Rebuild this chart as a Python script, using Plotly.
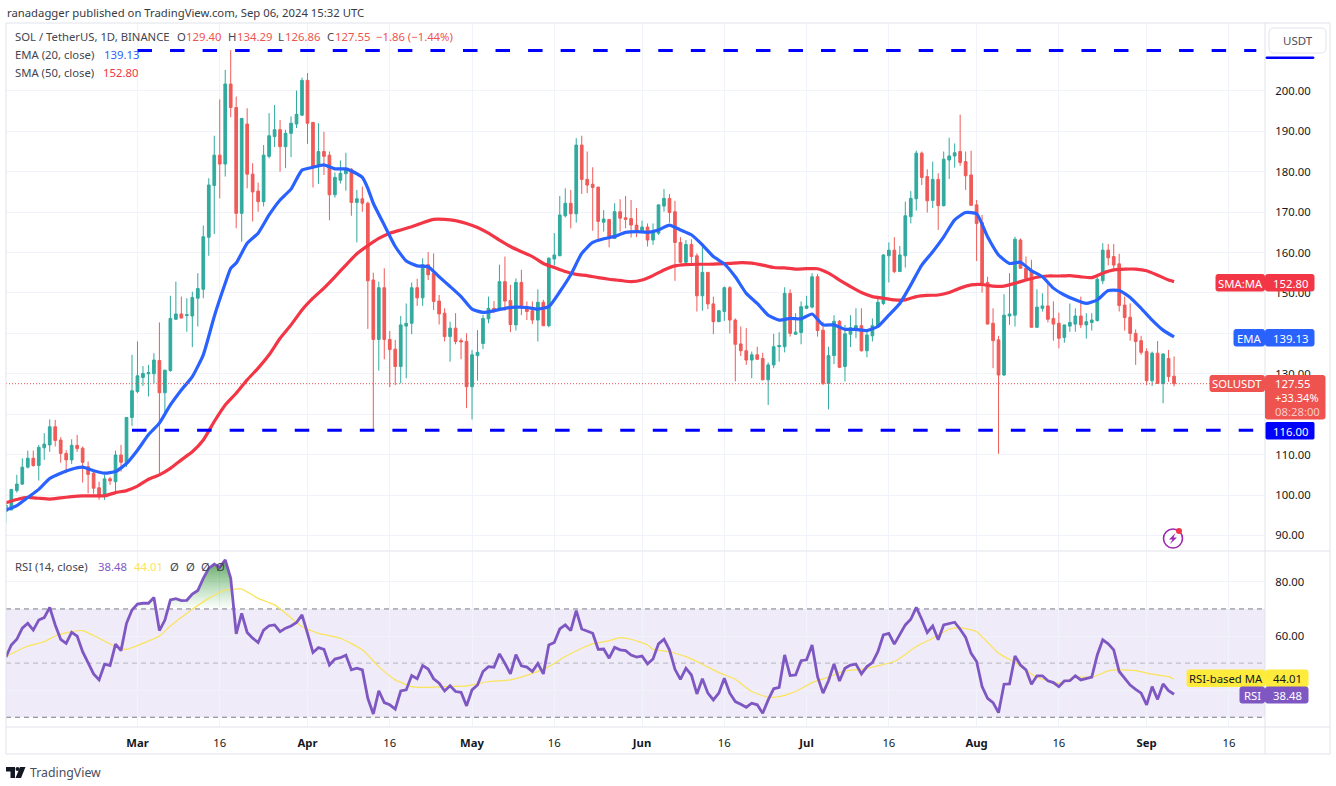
import pandas as pd
import plotly.graph_objects as go

W, H = 1336, 786

# ---------- data ----------
first_day = "2024-02-06"

opens = [95.9,96.3,101.1,102.7,106.9,109.1,107.3,111.7,112.4,116.9,113.6,110.3,108.7,112.3,111.6,107.0,105.4,101.8,99.8,104.0,
103.3,109.9,108.1,119.2,125.6,129.1,130.0,130.0,133.3,125.3,130.8,143.5,144.8,144.4,144.3,148.7,150.9,163.8,176.6,184.1,
181.9,201.7,195.9,169.7,191.8,179.4,175.2,172.6,183.8,188.7,190.4,186.2,189.5,191.8,194.0,202.6,192.2,181.3,185.0,184.1,
174.3,177.9,179.5,180.6,172.4,173.3,172.2,153.2,138.5,151.3,138.5,136.1,131.8,141.8,142.5,151.3,148.8,157.0,154.9,148.0,
145.0,139.2,141.3,138.2,138.0,126.8,134.5,137.5,143.6,146.2,145.8,152.8,148.1,142.1,152.6,146.6,145.6,143.3,147.7,141.9,
158.4,159.2,169.1,172.2,169.6,186.6,178.1,176.9,176.2,167.5,168.2,163.5,170.1,168.6,168.4,166.8,165.4,166.3,163.1,164.8,
171.5,173.4,170.1,162.5,157.6,162.0,159.2,149.3,155.1,147.3,142.9,145.4,151.3,143.3,137.4,135.7,133.4,134.7,133.8,128.5,
132.2,136.7,136.7,149.9,139.8,140.2,146.2,146.5,154.0,140.8,127.6,134.5,143.0,131.8,139.8,141.3,141.9,135.7,139.4,141.7,
147.4,159.2,160.6,155.3,159.2,168.9,173.3,184.6,178.8,172.9,178.1,171.6,182.9,183.9,185.0,182.5,179.2,171.8,167.4,152.6,
142.5,138.4,129.7,144.3,144.5,163.1,156.1,155.7,141.5,146.2,146.8,143.7,142.5,139.0,141.8,142.3,144.3,142.1,142.7,143.2,
153.0,160.6,159.0,157.2,147.0,144.0,140.0,138.2,135.5,128.3,135.1,127.6,133.8,129.40]
highs = [97.9,101.4,105.0,109.1,111.0,111.0,112.4,115.3,118.7,118.6,114.3,111.1,113.8,114.9,112.0,108.3,106.0,103.3,105.0,104.5,
111.0,112.4,119.2,134.7,138.0,131.9,132.2,135.1,142.7,130.9,149.3,152.8,149.1,148.7,150.3,154.9,166.7,178.4,188.9,197.9,
205.2,210.1,198.6,193.2,195.7,182.1,177.3,186.6,194.5,196.5,192.8,190.4,193.7,200.1,203.3,204.4,192.2,192.0,189.9,185.0,
179.8,182.8,184.7,180.9,175.5,176.3,172.6,155.0,152.8,156.1,140.6,138.4,144.3,147.4,152.6,153.5,158.6,160.1,159.8,149.5,
146.2,142.9,145.0,138.8,140.0,135.9,140.8,144.6,149.1,148.0,157.0,159.0,152.0,153.6,155.7,147.9,147.9,150.9,148.3,158.8,
164.8,174.0,175.9,175.5,188.3,188.9,185.0,181.1,176.2,170.5,168.2,172.2,173.2,174.0,173.0,171.0,167.9,167.2,167.2,171.8,
175.7,174.5,172.8,163.8,163.1,163.3,159.8,162.3,155.1,149.1,145.8,151.6,151.7,143.7,141.7,141.3,135.5,136.7,135.2,132.8,
139.9,140.3,151.4,150.9,145.0,147.9,149.3,154.9,154.7,142.9,136.7,144.5,143.3,142.1,144.5,146.2,146.2,140.4,143.7,148.7,
159.6,162.5,163.8,161.6,172.6,175.2,185.2,185.0,180.6,182.5,179.6,185.0,188.4,187.0,194.1,185.0,185.2,173.0,169.3,154.0,
146.2,139.4,149.7,154.9,163.9,163.5,159.0,158.2,150.9,149.9,152.4,147.9,145.1,142.1,147.4,146.2,149.1,145.0,145.0,154.0,
162.3,162.1,162.1,159.7,149.1,147.4,141.0,139.4,136.3,135.5,138.1,135.1,135.9,134.29]
lows = [93.2,96.3,100.6,102.5,106.6,107.0,103.6,108.7,110.7,112.0,108.0,105.4,107.7,110.7,103.1,100.4,100.3,98.8,98.8,102.5,
100.6,105.8,107.0,117.1,125.2,127.0,124.4,127.6,105.4,120.2,130.5,143.3,143.7,140.4,136.6,141.7,148.7,159.2,164.6,173.4,
178.8,193.5,166.0,162.7,175.9,167.7,170.1,171.4,183.3,186.1,180.0,180.9,183.6,190.8,193.8,186.9,176.1,177.0,179.2,168.0,
173.6,177.1,175.3,169.1,162.5,170.1,141.1,116.0,130.8,133.6,126.7,127.2,127.6,128.9,139.8,146.8,146.8,153.2,145.8,142.2,
138.0,133.0,137.3,133.6,121.5,118.7,128.3,136.1,142.5,145.0,145.6,145.6,140.3,140.7,144.5,143.3,142.3,138.0,141.8,141.5,
156.8,159.2,168.7,166.0,167.4,174.5,174.7,165.4,163.0,165.2,161.3,163.5,165.2,166.0,163.7,163.8,165.2,161.5,161.9,164.4,
170.1,167.4,153.0,157.3,156.7,156.9,145.4,145.6,146.0,139.8,142.9,143.1,140.0,128.1,134.4,132.2,128.9,133.4,128.5,122.3,
131.4,133.0,135.3,139.2,139.6,137.3,146.0,146.2,139.2,127.2,121.2,132.4,131.4,128.1,136.6,138.8,135.5,134.1,138.0,141.7,
147.0,152.6,154.9,155.3,156.3,167.2,170.4,176.7,169.9,171.0,165.6,171.4,178.2,181.0,181.5,175.5,171.5,157.9,150.1,142.3,
131.4,110.2,129.5,142.1,141.7,156.1,153.6,141.5,141.4,145.4,142.7,138.2,136.3,137.7,140.4,140.4,141.3,138.7,140.7,142.9,
152.2,156.8,156.1,145.4,140.7,138.2,132.2,134.7,127.2,127.0,127.5,122.7,128.0,126.86]
closes = [97.5,101.4,102.7,106.9,109.1,107.3,111.8,112.6,116.9,113.5,110.3,108.7,112.3,111.5,108.1,105.1,101.7,99.6,104.0,103.5,
109.9,108.1,119.2,125.8,129.5,130.1,130.3,133.4,125.3,130.9,143.7,144.8,143.8,144.6,148.9,151.1,163.9,176.7,184.1,181.9,
201.7,195.9,169.7,193.2,179.4,175.0,172.6,184.1,188.9,190.4,186.2,189.5,192.0,194.2,202.6,192.0,181.3,185.0,183.8,174.3,
178.6,179.6,180.5,172.4,173.3,172.2,153.0,138.5,151.3,138.5,136.0,131.8,142.1,142.5,151.3,148.8,157.0,154.5,147.9,144.8,
139.2,141.3,138.0,137.9,126.8,134.7,135.3,143.7,146.2,145.4,152.8,148.0,142.2,152.6,146.5,145.4,143.3,147.7,141.9,158.6,
159.4,169.3,172.2,169.6,186.6,178.1,176.7,176.1,167.7,168.3,163.5,170.1,168.5,168.2,166.8,165.2,166.3,163.1,165.0,171.8,
173.4,169.9,162.5,157.6,162.0,159.0,149.3,155.1,147.3,142.9,145.6,151.3,143.3,137.3,135.7,133.4,134.7,133.6,128.5,132.2,
136.7,137.0,149.9,140.0,140.3,146.6,146.8,154.0,140.7,127.6,134.5,143.0,131.6,139.9,141.4,141.9,135.7,139.6,141.9,147.7,
159.4,160.6,155.3,159.4,169.1,173.4,184.6,178.6,172.8,178.1,171.6,183.1,183.9,184.7,182.3,179.0,171.7,167.2,152.4,142.3,
138.2,129.7,144.5,144.8,163.3,156.1,153.6,141.5,146.5,146.8,143.5,142.3,138.8,142.1,142.7,144.3,142.1,142.9,143.3,153.4,
160.6,158.7,156.9,146.9,143.9,140.0,138.0,135.3,128.3,135.1,127.6,134.9,129.3,127.55]

ema_days = [0,2,4,6,8,10,12,14,16,18,20,22,24,26,28,30,32,34,36,38,40,41,42,44,46,48,50,52,54,56,58,60,62,64,65,66,67,69,71,73,75,77,79,81,83,85,87,89,91,93,95,97,99,101,103,105,107,109,111,113,115,117,119,121,123,125,127,129,131,133,135,137,139,141,143,145,147,149,151,153,155,157,159,161,163,165,167,169,171,173,175,177,179,181,183,185,187,189,191,193,195,197,199,201,203,205,207,209,211,213]
ema_vals = [96.3,97.4,99.4,101.4,104.1,105.4,106.4,106.9,106.0,105.4,105.8,107.8,111.1,114.9,117.8,122.3,126.0,129.3,134.7,144.2,152.4,156.1,157.4,162.3,164.8,169.3,173.0,175.7,180.4,181.1,181.7,180.7,180.7,179.5,178.6,175.9,172.2,166.8,161.5,157.9,156.7,156.5,154.0,151.6,149.1,146.0,145.2,145.6,146.2,146.5,146.4,146.0,146.6,150.3,154.5,159.8,162.5,163.4,164.0,165.0,165.2,165.0,165.6,166.8,165.6,164.4,161.9,159.0,157.2,154.0,149.9,147.4,144.5,143.3,143.7,143.6,144.8,142.1,142.1,141.0,141.0,140.7,141.7,144.5,147.4,152.0,156.9,160.2,163.9,168.1,169.9,169.6,163.9,159.4,157.3,157.6,155.5,154.0,151.2,149.5,148.3,147.4,148.3,150.6,150.6,148.9,146.2,143.3,140.8,139.13]

sma_days = [0,2,4,6,8,10,12,14,16,18,20,22,24,26,28,30,32,34,36,38,40,42,44,46,48,50,52,54,56,58,60,62,64,66,68,70,72,74,76,78,80,82,84,86,88,90,92,94,96,98,100,102,104,106,108,110,112,114,116,118,120,122,124,126,128,130,132,134,136,138,140,142,144,146,148,150,152,154,156,158,160,162,164,166,168,170,172,174,176,178,180,182,184,186,188,190,192,194,196,198,200,202,204,206,208,210,212,213]
sma_vals = [98.1,98.9,99.4,99.2,99.0,99.3,99.6,99.8,99.8,99.8,100.6,101.1,102.2,103.9,105.0,106.6,108.7,110.7,113.6,118.2,122.3,125.2,128.5,131.4,134.7,138.8,142.1,145.8,148.7,151.2,154.0,156.9,159.7,161.7,163.5,164.8,165.6,166.4,167.4,168.2,168.2,167.9,167.2,166.2,164.8,163.1,161.5,160.2,159.0,157.3,156.3,155.3,154.6,154.3,153.8,153.4,153.1,152.8,153.2,154.3,155.7,156.7,157.0,157.1,157.1,157.2,157.3,157.5,157.4,156.9,156.3,156.2,155.9,156.0,156.0,154.9,153.2,151.6,150.1,149.1,148.7,148.3,148.3,149.1,149.4,149.5,150.1,151.2,152.0,152.1,151.7,151.7,152.4,153.2,153.9,154.2,154.2,154.3,154.0,153.8,154.9,155.7,155.9,155.9,155.5,154.4,153.2,152.80]

rsi_vals = [52.2,56.7,58.8,62.9,64.7,62.2,65.9,66.8,70.6,64.1,58.8,57.3,61.4,60.0,54.2,49.9,46.0,43.8,49.6,49.1,
57.0,54.6,64.7,69.6,71.8,72.1,72.1,74.2,62.0,65.9,73.3,73.8,73.1,73.2,75.5,76.8,81.3,85.0,86.5,85.4,
88.1,81.3,60.8,68.4,61.3,59.2,57.6,62.2,63.8,64.1,61.6,62.9,63.7,65.0,67.8,61.0,53.9,55.7,55.1,49.3,
51.5,52.0,52.9,47.5,48.1,47.5,37.0,31.2,39.8,35.4,34.6,33.0,39.7,40.1,45.4,44.2,49.1,47.8,44.2,42.6,
39.7,41.6,39.5,39.2,34.2,40.1,41.9,46.9,48.7,48.5,53.4,49.9,46.0,53.1,49.0,48.5,46.9,49.9,46.0,56.7,
57.6,62.6,64.1,62.0,69.4,62.6,61.9,61.0,55.1,55.2,51.8,55.8,54.9,54.6,53.0,52.2,52.6,49.7,51.5,57.1,
58.8,54.9,47.7,44.0,48.1,45.6,38.6,44.2,38.9,36.4,38.9,44.4,38.9,35.8,34.8,33.7,35.2,34.6,31.5,36.4,
40.5,41.0,53.0,45.4,45.6,50.9,51.2,56.7,45.0,38.9,43.5,49.7,43.4,48.1,49.3,49.6,46.0,48.7,50.2,54.2,
60.4,61.0,57.0,60.8,64.1,66.2,70.6,66.2,61.3,63.7,58.6,64.1,64.5,65.1,62.5,59.5,53.6,50.6,41.3,37.0,
35.4,31.7,42.2,42.3,52.6,49.3,47.5,42.2,45.3,45.3,43.5,42.8,41.3,43.4,43.5,45.3,43.8,44.4,44.8,53.0,
58.6,57.1,54.9,46.9,44.4,41.9,40.3,38.9,34.6,41.3,36.6,42.3,39.8,38.48]

rsi_ma_days = [0,4,7,9,12,14,17,20,22,25,28,30,34,37,40,43,46,49,51,54,57,61,65,68,71,74,76,80,84,88,92,96,99,102,105,107,110,112,114,117,118,121,124,127,130,133,136,139,141,144,147,150,153,156,159,162,163,166,169,172,174,177,181,184,188,192,195,198,201,203,206,209,212,213]
rsi_ma_vals = [52.4,56.3,57.9,60.0,61.6,62.0,59.2,56.1,55.1,57.3,60.0,63.7,69.9,73.9,77.0,77.3,73.9,71.5,68.4,63.5,61.0,59.2,54.9,48.7,43.8,41.3,41.0,41.3,41.6,43.2,43.8,46.2,48.7,52.4,55.5,57.1,58.3,59.4,58.8,56.7,55.1,54.2,52.4,49.6,46.5,44.0,39.5,37.4,37.6,39.5,42.8,44.8,47.2,47.7,49.0,50.6,51.8,56.1,59.2,62.5,63.1,61.6,53.6,50.2,44.8,42.6,44.8,44.8,47.1,47.5,47.2,45.9,45.0,44.01]

levels = [210.0, 116.0]
level_starts = ["2024-03-01", "2024-02-29"]
level_end = "2024-09-21"
price_ticks = [90,100,110,120,130,140,150,160,170,180,190,200]
price_tick_text = ["90.00","100.00","110.00","","130.00","","150.00","160.00","170.00","180.00","190.00","200.00"]
rsi_ticks = [40,60,80]
rsi_tick_text = ["","60.00","80.00"]
rsi_bands = [70,50,30]
time_ticks = ["2024-03-01","2024-03-16","2024-04-01","2024-04-16","2024-05-01","2024-05-16","2024-06-01","2024-06-16",
              "2024-07-01","2024-07-16","2024-08-01","2024-08-16","2024-09-01","2024-09-16"]
time_labels = ["<b>Mar</b>","16","<b>Apr</b>","16","<b>May</b>","16","<b>Jun</b>","16","<b>Jul</b>","16","<b>Aug</b>","16","<b>Sep</b>","16"]
last_price = 127.55
last_ema = 139.13
last_sma = 152.80
last_rsi = 38.48
last_rsi_ma = 44.01

# ---------- styling ----------
RED, GREEN = "#ef5350", "#26a69a"
BLUE, CRIM = "#2962ff", "#f23645"
PURPLE, YELLOW = "#7e57c2", "#ffeb3b"
GRID, FRAME = "#f0f3fa", "#e0e3eb"
INK = "#131722"
FONT = "Noto Sans"

dates = pd.date_range(first_day, periods=len(closes), freq="D")
ema_x = [dates[i] for i in ema_days]
sma_x = [dates[i] for i in sma_days]
ma_x = [dates[i] for i in rsi_ma_days]

px = lambda x: x / W
py = lambda y: 1 - y / H

fig = go.Figure()
fig.add_trace(go.Candlestick(x=dates, open=opens, high=highs, low=lows, close=closes, xaxis="x", yaxis="y",
    increasing=dict(line=dict(color=GREEN, width=1), fillcolor=GREEN),
    decreasing=dict(line=dict(color=RED, width=1), fillcolor=RED),
    whiskerwidth=0, opacity=0.95))
fig.add_trace(go.Scatter(x=sma_x, y=sma_vals, mode="lines", line=dict(color=CRIM, width=3.2, shape="spline", smoothing=0.5), xaxis="x", yaxis="y"))
fig.add_trace(go.Scatter(x=ema_x, y=ema_vals, mode="lines", line=dict(color=BLUE, width=3.2, shape="spline", smoothing=0.5), xaxis="x", yaxis="y"))
for lev, st in zip(levels, level_starts):
    fig.add_trace(go.Scatter(x=[st, level_end], y=[lev, lev], mode="lines",
                             line=dict(color="#0000ff", width=3, dash="14.5px,18.05px"), xaxis="x", yaxis="y"))

# RSI pane
over_x = list(dates[24:42]) + list(dates[24:42])[::-1]
over_y = rsi_vals[24:42] + [70] * 18
fig.add_trace(go.Scatter(x=over_x, y=over_y, mode="none", fill="toself", xaxis="x2", yaxis="y2",
    fillgradient=dict(type="vertical", start=70, stop=88,
                      colorscale=[[0, "rgba(76,175,80,0)"], [1, "rgba(56,142,60,0.8)"]])))
fig.add_trace(go.Scatter(x=ma_x, y=rsi_ma_vals, mode="lines", line=dict(color="#fbe35a", width=1.2, shape="spline", smoothing=0.5), xaxis="x2", yaxis="y2"))
fig.add_trace(go.Scatter(x=dates, y=rsi_vals, mode="lines", line=dict(color=PURPLE, width=2.8), xaxis="x2", yaxis="y2"))

shapes, ann = [], []

def hline(y, x0=6, x1=1330, color=FRAME):
    shapes.append(dict(type="line", xref="paper", yref="paper", x0=px(x0), x1=px(x1), y0=py(y), y1=py(y), line=dict(color=color, width=1), layer="above"))

def vline(x, y0=23, y1=754, color=FRAME):
    shapes.append(dict(type="line", xref="paper", yref="paper", x0=px(x), x1=px(x), y0=py(y0), y1=py(y1), line=dict(color=color, width=1), layer="above"))

def box(x0, y0, x1, y1, fill, r=2, line=None):
    p = (f"M{px(x0+r)},{py(y0)} L{px(x1-r)},{py(y0)} Q{px(x1)},{py(y0)} {px(x1)},{py(y0+r)} "
         f"L{px(x1)},{py(y1-r)} Q{px(x1)},{py(y1)} {px(x1-r)},{py(y1)} L{px(x0+r)},{py(y1)} "
         f"Q{px(x0)},{py(y1)} {px(x0)},{py(y1-r)} L{px(x0)},{py(y0+r)} Q{px(x0)},{py(y0)} {px(x0+r)},{py(y0)} Z")
    shapes.append(dict(type="path", xref="paper", yref="paper", path=p, fillcolor=fill,
                       line=dict(color=line or fill, width=1), layer="above"))

def txt(x, y, s, color=INK, size=11.3, anchor="left"):
    ann.append(dict(xref="paper", yref="paper", x=px(x), y=py(y), text=s, showarrow=False, xanchor=anchor, yanchor="middle",
                    font=dict(color=color, size=size, family=FONT), borderpad=0))

# RSI band and levels
shapes.append(dict(type="rect", xref="paper", yref="y2", x0=px(6), x1=px(1265), y0=rsi_bands[2], y1=rsi_bands[0],
                   fillcolor="rgba(126,87,194,0.12)", line=dict(width=0), layer="below"))
for lv, col in zip(rsi_bands, ["#787b86", "#b2b5be", "#787b86"]):
    shapes.append(dict(type="line", xref="paper", yref="y2", x0=px(6), x1=px(1265), y0=lv, y1=lv,
                       line=dict(color=col, width=1, dash="5px,4px"), layer="below"))
# last price dotted line
shapes.append(dict(type="line", xref="paper", yref="y", x0=px(6), x1=px(1210), y0=last_price, y1=last_price,
                   line=dict(color=RED, width=1, dash="1px,2px"), layer="above"))

# frames
hline(23); hline(551); hline(727); hline(754)
vline(6); vline(1265); vline(1330)

# price labels
box(1266, 57, 1314, 58.5, "#0000ff", r=0.5)
box(1269, 28, 1326, 53, "#ffffff", r=5, line=FRAME)
txt(1297.5, 41, "USDT", "#4a4e5a", 11.5, "center")

box(1216, 274.5, 1264.5, 291, CRIM); box(1265.5, 274.5, 1314, 291, CRIM)
txt(1240, 283, "SMA:MA", "#ffffff", anchor="center"); txt(1290, 283, f"{last_sma:.2f}", "#ffffff", anchor="center")
box(1234, 329.5, 1264.5, 346, BLUE); box(1265.5, 329.5, 1314, 346, BLUE)
txt(1249, 338, "EMA", "#ffffff", anchor="center"); txt(1290, 338, f"{last_ema:.2f}", "#ffffff", anchor="center")
box(1210, 375.5, 1264.5, 391.5, RED); box(1265.5, 375.5, 1325, 419, RED)
txt(1237, 383.5, "SOLUSDT", "#ffffff", anchor="center"); txt(1274, 383.5, f"{last_price:.2f}", "#ffffff")
txt(1274, 397.5, "+33.34%", "#ffffff", 11); txt(1274, 411.5, "08:28:00", "#f9c9c8")
box(1266, 422.5, 1314, 439, "#0000ff", r=1); txt(1290, 431, "116.00", "#ffffff", anchor="center")
box(1187, 670, 1264.5, 686.5, YELLOW); box(1265.5, 670, 1308, 686.5, YELLOW)
txt(1226, 678.5, "RSI-based MA", INK, anchor="center"); txt(1287, 678.5, f"{last_rsi_ma:.2f}", INK, anchor="center")
box(1240, 687, 1264.5, 703, PURPLE); box(1265.5, 687, 1308, 703, PURPLE)
txt(1252, 695, "RSI", "#ffffff", anchor="center"); txt(1287, 695, f"{last_rsi:.2f}", "#ffffff", anchor="center")

# header + legends
txt(6, 12, "ranadagger published on TradingView.com, Sep 06, 2024 15:32 UTC", "#363a45")
txt(14, 37, "SOL / TetherUS, 1D, BINANCE", "#434651")
for xk, k, xv, v in [(176, "O", 185, "129.40"), (227, "H", 236, "134.29"), (277, "L", 284, "126.86"), (326, "C", 334, "127.55")]:
    txt(xk, 37, k, "#434651"); txt(xv, 37, v, RED)
txt(375, 37, "−1.86 (−1.44%)", RED)
txt(14, 55, "EMA (20, close)", "#434651"); txt(103, 55, f"{last_ema:.2f}", BLUE)
txt(14, 72, "SMA (50, close)", "#434651"); txt(102, 72, f"{last_sma:.2f}", CRIM)
txt(14, 566, "RSI (14, close)", "#434651"); txt(97, 566, f"{last_rsi:.2f}", PURPLE); txt(133, 566, f"{last_rsi_ma:.2f}", "#fbe35a")
for xz in [169, 185, 200, 215]:
    txt(xz, 566, "Ø", "#434651")

# lightning badge
shapes.append(dict(type="circle", xref="paper", yref="paper", x0=px(1163.5), x1=px(1182.5), y0=py(529), y1=py(548),
                   fillcolor="rgba(255,255,255,0)", line=dict(color="#9c27b0", width=1.6), layer="above"))
bolt = [(1175.5, 533), (1169, 539.5), (1172.5, 539.5), (1170, 544), (1177, 537.5), (1173.5, 537.5)]
shapes.append(dict(type="path", xref="paper", yref="paper", fillcolor="#9c27b0", line=dict(width=0), layer="above",
                   path="M" + " L".join(f"{px(a)},{py(b)}" for a, b in bolt) + " Z"))
shapes.append(dict(type="circle", xref="paper", yref="paper", x0=px(1176), x1=px(1182), y0=py(528), y1=py(534),
                   fillcolor="#f23645", line=dict(width=0), layer="above"))

# TradingView logo
logo_t = [(6, 767), (15, 767), (15, 778), (10.5, 778), (10.5, 771.5), (6, 771.5)]
logo_v = [(20, 767), (25.5, 767), (21, 778), (15.5, 778)]
for poly in (logo_t, logo_v):
    shapes.append(dict(type="path", xref="paper", yref="paper", fillcolor=INK, line=dict(width=0), layer="above",
                       path="M" + " L".join(f"{px(a)},{py(b)}" for a, b in poly) + " Z"))
shapes.append(dict(type="circle", xref="paper", yref="paper", x0=px(15.5), x1=px(19.5), y0=py(767), y1=py(771),
                   fillcolor=INK, line=dict(width=0), layer="above"))
txt(29, 772, "TradingView", "#4a4e5a", 12.3)

xrange = ["2024-02-06 00:40", "2024-09-22 14:00"]
tickfont = dict(family=FONT, size=11.3, color=INK)
fig.update_layout(
    width=W, height=H, margin=dict(l=0, r=0, t=0, b=0), paper_bgcolor="#ffffff", plot_bgcolor="#ffffff",
    showlegend=False, font=dict(family=FONT, size=12, color=INK), hovermode=False,
    xaxis=dict(domain=[px(6), px(1265)], anchor="y", range=xrange, type="date", rangeslider=dict(visible=False),
               tickvals=time_ticks, ticktext=time_labels, showticklabels=False, ticks="", showgrid=True, gridcolor=GRID, gridwidth=1, zeroline=False, showline=False),
    yaxis=dict(domain=[py(550), py(23)], anchor="x", side="right", range=[86.4, 216.8], tickvals=price_ticks, ticktext=price_tick_text,
               ticks="outside", ticklen=7, tickcolor="rgba(0,0,0,0)", showgrid=True, gridcolor=GRID, zeroline=False, showline=False, tickfont=tickfont),
    xaxis2=dict(domain=[px(6), px(1265)], anchor="y2", range=xrange, type="date", tickvals=time_ticks, ticktext=time_labels,
                ticks="outside", ticklen=5, tickcolor="rgba(0,0,0,0)", showgrid=True, gridcolor=GRID, zeroline=False, showline=False, tickfont=tickfont),
    yaxis2=dict(domain=[py(727), py(551)], anchor="x2", side="right", range=[26.4, 91.4], tickvals=rsi_ticks, ticktext=rsi_tick_text,
                ticks="outside", ticklen=7, tickcolor="rgba(0,0,0,0)", showgrid=True, gridcolor=GRID, zeroline=False, showline=False, tickfont=tickfont),
    shapes=shapes, annotations=ann,
)
fig.write_html("out.html", config={"displayModeBar": False}, post_script="document.body.style.margin='0';")
